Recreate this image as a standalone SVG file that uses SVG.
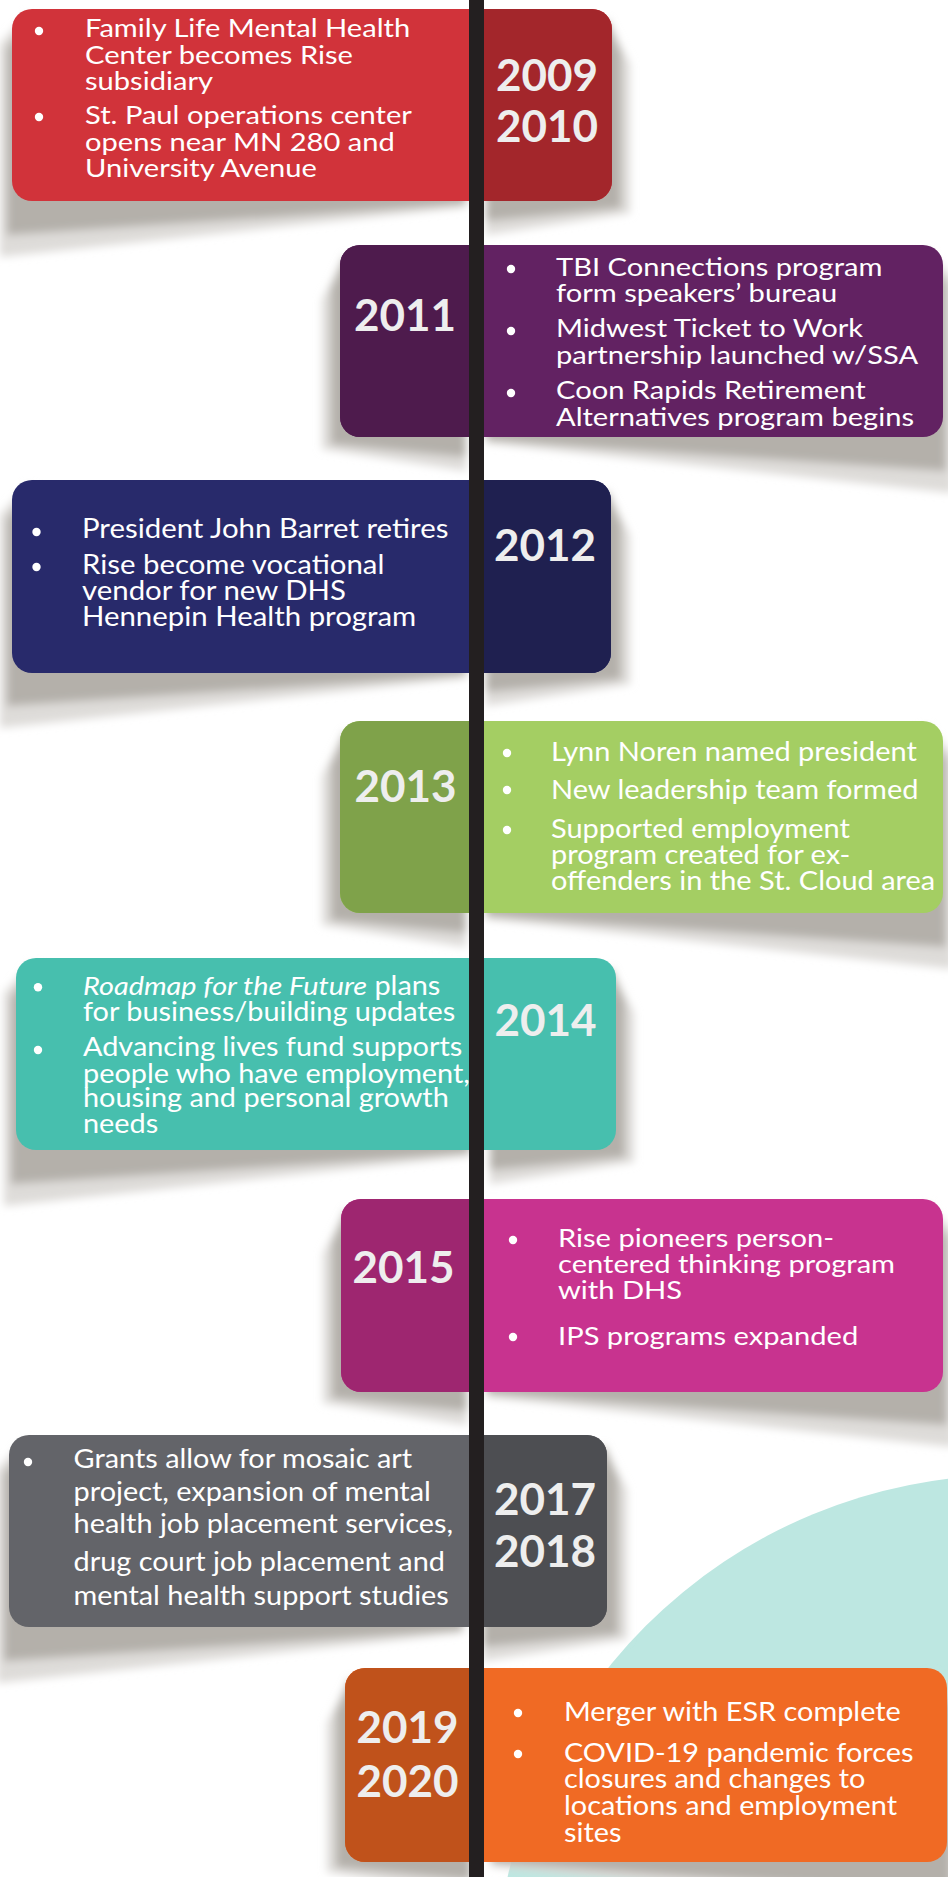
<svg xmlns="http://www.w3.org/2000/svg" xmlns:xlink="http://www.w3.org/1999/xlink" width="948" height="1877" viewBox="0 0 948 1877">
  <style>
    .body { font-family: Lato, "Liberation Sans", sans-serif; font-size: 26px; fill: #ffffff; }
    .yr { font-family: Lato, "Liberation Sans", sans-serif; font-weight: 700; font-size: 44px; fill: #eeeeee; text-anchor: middle; }
    .dot { fill: #ffffff; }
    .sh-out { fill: #dedcd9; }
    .sh-in { fill: #b4b0aa; }
  </style>
  <defs>
    <filter id="soft" x="-10%" y="-20%" width="120%" height="140%">
      <feGaussianBlur stdDeviation="4"/>
    </filter>
    <!-- cast shadow for a card whose text panel sits left of the spine -->
    <g id="shadowLeft" filter="url(#soft)">
      <polygon class="sh-out" points="15,5 -12,35 -12,248 454,198 454,182"/>
      <polygon class="sh-out" points="474,182 474,226 618,204 618,55 595,10"/>
      <polygon class="sh-in" points="15,10 -5,40 -5,226 454,195 454,182"/>
      <polygon class="sh-in" points="474,182 474,212 609,199 609,45 595,10"/>
    </g>
    <!-- cast shadow for a card whose text panel sits right of the spine -->
    <g id="shadowRight" filter="url(#soft)">
      <polygon class="sh-out" points="5,10 -18,55 -18,204 126,226 126,182"/>
      <polygon class="sh-out" points="146,182 146,198 613,248 613,35 588,5"/>
      <polygon class="sh-in" points="5,10 -9,45 -9,199 126,212 126,182"/>
      <polygon class="sh-in" points="146,182 146,195 606,226 606,40 588,10"/>
    </g>
  </defs>

  <rect width="948" height="1877" fill="#ffffff"/>

  <!-- decorative disc, lower right -->
  <circle cx="1010" cy="1990" r="515" fill="#bde7e1"/>

  <!-- shadows under the cards -->
  <g id="shadows">
    <use xlink:href="#shadowLeft" transform="translate(12,9)"/>
    <use xlink:href="#shadowRight" transform="translate(340,245)"/>
    <use xlink:href="#shadowLeft" transform="translate(12,480)"/>
    <use xlink:href="#shadowRight" transform="translate(340,721)"/>
    <use xlink:href="#shadowLeft" transform="translate(16,958)"/>
    <use xlink:href="#shadowRight" transform="translate(341,1199)"/>
    <use xlink:href="#shadowLeft" transform="translate(9,1435)"/>
    <use xlink:href="#shadowRight" transform="translate(345,1668)"/>
  </g>

  <!-- 2009 / 2010 -->
  <g id="y2009">
    <rect x="12" y="9" width="600" height="192" rx="20" fill="#d1333a"/>
    <path d="M476,9 H592 A20,20 0 0 1 612,29 V181 A20,20 0 0 1 592,201 H476 Z" fill="#a3262b"/>
    <circle class="dot" cx="39" cy="31" r="4.2"/>
    <circle class="dot" cx="39" cy="117" r="4.2"/>
    <g transform="translate(-10.2,0) scale(1.12,1)">
      <text class="body" x="85" y="37.5">Family Life Mental Health</text>
      <text class="body" x="85" y="64">Center becomes Rise</text>
      <text class="body" x="85" y="90.5">subsidiary</text>
      <text class="body" x="85" y="124">St. Paul operations center</text>
      <text class="body" x="85" y="151">opens near MN 280 and</text>
      <text class="body" x="85" y="177.5">University Avenue</text>
    </g>
    <text class="yr" x="547" y="91">2009</text>
    <text class="yr" x="547" y="142">2010</text>
  </g>

  <!-- 2011 -->
  <g id="y2011">
    <rect x="340" y="245" width="603" height="192" rx="20" fill="#622262"/>
    <path d="M476,245 H360 A20,20 0 0 0 340,265 V417 A20,20 0 0 0 360,437 H476 Z" fill="#4e1b4d"/>
    <circle class="dot" cx="511" cy="269" r="4.2"/>
    <circle class="dot" cx="511" cy="331" r="4.2"/>
    <circle class="dot" cx="511" cy="393" r="4.2"/>
    <g transform="translate(-66.72,0) scale(1.12,1)">
      <text class="body" x="556" y="276">TBI Connections program</text>
      <text class="body" x="556" y="302">form speakers’ bureau</text>
      <text class="body" x="556" y="337">Midwest Ticket to Work</text>
      <text class="body" x="556" y="364">partnership launched w/SSA</text>
      <text class="body" x="556" y="399.5">Coon Rapids Retirement</text>
      <text class="body" x="556" y="426.5">Alternatives program begins</text>
    </g>
    <text class="yr" x="405" y="331">2011</text>
  </g>

  <!-- 2012 -->
  <g id="y2012">
    <rect x="12" y="480" width="599" height="193" rx="20" fill="#282a6b"/>
    <path d="M476,480 H591 A20,20 0 0 1 611,500 V653 A20,20 0 0 1 591,673 H476 Z" fill="#1f2050"/>
    <circle class="dot" cx="36.5" cy="532" r="4.2"/>
    <circle class="dot" cx="36.5" cy="567" r="4.2"/>
    <g transform="translate(-10.66,0) scale(1.13,1)">
      <text class="body" x="82" y="538.5">President John Barret retires</text>
      <text class="body" x="82" y="574">Rise become vocational</text>
      <text class="body" x="82" y="600">vendor for new DHS</text>
      <text class="body" x="82" y="626">Hennepin Health program</text>
    </g>
    <text class="yr" x="545" y="561">2012</text>
  </g>

  <!-- 2013 -->
  <g id="y2013">
    <rect x="340" y="721" width="603" height="192" rx="20" fill="#a4ce63"/>
    <path d="M476,721 H360 A20,20 0 0 0 340,741 V893 A20,20 0 0 0 360,913 H476 Z" fill="#7fa24a"/>
    <circle class="dot" cx="507" cy="753" r="4.2"/>
    <circle class="dot" cx="507" cy="790" r="4.2"/>
    <circle class="dot" cx="507" cy="830" r="4.2"/>
    <g transform="translate(-63.37,0) scale(1.115,1)">
      <text class="body" x="551" y="760.7">Lynn Noren named president</text>
      <text class="body" x="551" y="799.3">New leadership team formed</text>
      <text class="body" x="551" y="838.3">Supported employment</text>
      <text class="body" x="551" y="864">program created for ex-</text>
      <text class="body" x="551" y="890">offenders in the St. Cloud area</text>
    </g>
    <text class="yr" x="405.5" y="802">2013</text>
  </g>

  <!-- 2014 -->
  <g id="y2014">
    <rect x="16" y="958" width="600" height="192" rx="20" fill="#47bfae"/>
    <circle class="dot" cx="38" cy="987.3" r="4.2"/>
    <circle class="dot" cx="38" cy="1050" r="4.2"/>
    <g transform="translate(-9.13,0) scale(1.11,1)">
      <text class="body" x="83" y="995"><tspan font-style="italic">Roadmap for the Future</tspan> plans</text>
      <text class="body" x="83" y="1021">for business/building updates</text>
      <text class="body" x="83" y="1056">Advancing lives fund supports</text>
      <text class="body" x="83" y="1082.7">people who have employment,</text>
      <text class="body" x="83" y="1107.3">housing and personal growth</text>
      <text class="body" x="83" y="1133.3">needs</text>
    </g>
    <text class="yr" x="545.5" y="1036">2014</text>
  </g>

  <!-- 2015 -->
  <g id="y2015">
    <rect x="341" y="1199" width="602" height="193" rx="20" fill="#c8338f"/>
    <path d="M476,1199 H361 A20,20 0 0 0 341,1219 V1372 A20,20 0 0 0 361,1392 H476 Z" fill="#9e2670"/>
    <circle class="dot" cx="513" cy="1240" r="4.2"/>
    <circle class="dot" cx="513" cy="1337" r="4.2"/>
    <g transform="translate(-66.96,0) scale(1.12,1)">
      <text class="body" x="558" y="1246.7">Rise pioneers person-</text>
      <text class="body" x="558" y="1273.3">centered thinking program</text>
      <text class="body" x="558" y="1299.3">with DHS</text>
      <text class="body" x="558" y="1345">IPS programs expanded</text>
    </g>
    <text class="yr" x="403.5" y="1283">2015</text>
  </g>

  <!-- 2017 / 2018 -->
  <g id="y2017">
    <rect x="9" y="1435" width="598" height="192" rx="20" fill="#636469"/>
    <path d="M476,1435 H587 A20,20 0 0 1 607,1455 V1607 A20,20 0 0 1 587,1627 H476 Z" fill="#4d4e52"/>
    <circle class="dot" cx="28" cy="1462" r="4.2"/>
    <g transform="translate(-8.1,0) scale(1.11,1)">
      <text class="body" x="73.6" y="1468.3">Grants allow for mosaic art</text>
      <text class="body" x="73.6" y="1501">project, expansion of mental</text>
      <text class="body" x="73.6" y="1533.3">health job placement services,</text>
      <text class="body" x="73.6" y="1570.7">drug court job placement and</text>
      <text class="body" x="73.6" y="1605">mental health support studies</text>
    </g>
    <text class="yr" x="545" y="1515">2017</text>
    <text class="yr" x="545" y="1567">2018</text>
  </g>

  <!-- 2019 / 2020 -->
  <g id="y2019">
    <rect x="345" y="1668" width="602" height="194" rx="20" fill="#f06a24"/>
    <path d="M476,1668 H365 A20,20 0 0 0 345,1688 V1842 A20,20 0 0 0 365,1862 H476 Z" fill="#c0521b"/>
    <circle class="dot" cx="518" cy="1713" r="4.2"/>
    <circle class="dot" cx="518" cy="1754" r="4.2"/>
    <g transform="translate(-62.04,0) scale(1.11,1)">
      <text class="body" x="564" y="1720.7">Merger with ESR complete</text>
      <text class="body" x="564" y="1761.7">COVID-19 pandemic forces</text>
      <text class="body" x="564" y="1788.3">closures and changes to</text>
      <text class="body" x="564" y="1815">locations and employment</text>
      <text class="body" x="564" y="1841.7">sites</text>
    </g>
    <text class="yr" x="407.5" y="1743">2019</text>
    <text class="yr" x="407.5" y="1797">2020</text>
  </g>

  <!-- timeline spine -->
  <g id="connectors">
    <rect x="469" y="0" width="15" height="1877" fill="#231f20"/>
  </g>
</svg>
